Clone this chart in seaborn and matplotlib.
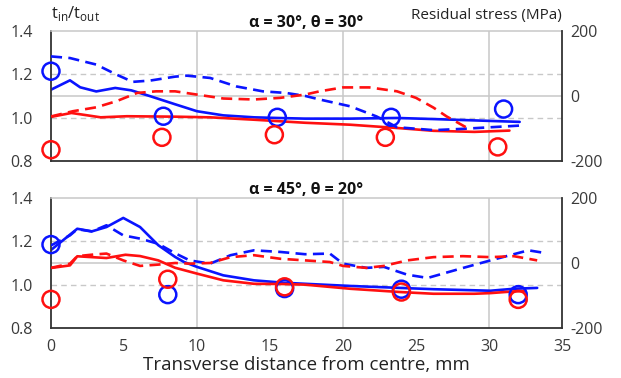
import matplotlib
matplotlib.use("Agg")
import matplotlib.pyplot as plt
import seaborn as sns

sns.set_theme(style="white")
plt.rcParams["font.family"] = ["Open Sans", "DejaVu Sans"]
plt.rcParams["axes.unicode_minus"] = False

BLUE = "#0a14ff"
RED = "#ff1010"

# ---- alpha = 30 deg, theta = 30 deg ----
a30_ratio_blue_x = [0, 1.3, 2.0, 3.1, 4.4, 5.5, 6.8, 8.5, 10, 11.8, 13.9, 15.5, 17.4, 20.5, 23.7, 26.2, 32.1]
a30_ratio_blue = [1.130, 1.173, 1.141, 1.122, 1.138, 1.127, 1.100, 1.063, 1.031, 1.012, 1.003, 1.000, 0.997, 0.997, 1.000, 0.995, 0.982]
a30_ratio_red_x = [0, 1.4, 3.4, 5.2, 8.5, 10.9, 13.9, 17.4, 20.5, 23.7, 26.2, 29.0, 31.4]
a30_ratio_red = [1.005, 1.023, 1.003, 1.008, 1.006, 1.003, 0.992, 0.978, 0.969, 0.954, 0.941, 0.936, 0.942]
a30_stress_blue_x = [0, 1.3, 3.1, 4.5, 5.6, 6.8, 8.5, 9.3, 10.9, 12.7, 14.5, 16.1, 17.4, 18.4, 20.5, 22.3, 23.7, 26.2, 28.2, 32.1]
a30_stress_blue = [122, 117, 97, 66, 44, 48, 60, 63, 56, 30, 15, 10, 1, -10, -31, -62, -95, -104, -100, -90]
a30_stress_red_x = [0, 1.5, 3.1, 4.5, 5.9, 7.2, 8.5, 10, 11.8, 13.9, 15.7, 17.4, 18.4, 20.0, 21.8, 23.7, 25.0, 26.2, 27.1, 28.5]
a30_stress_red = [-62, -46, -34, -15, 10, 15, 15, 5, -7, -10, -5, 5, 15, 27, 27, 15, -5, -35, -62, -97]
a30_meas_blue_x = [0, 7.7, 15.5, 23.3, 31.0]
a30_meas_blue = [1.215, 1.008, 1.003, 1.003, 1.041]
a30_meas_red_x = [0, 7.6, 15.3, 22.9, 30.6]
a30_meas_red = [0.854, 0.911, 0.923, 0.911, 0.867]

# ---- alpha = 45 deg, theta = 20 deg ----
a45_ratio_blue_x = [0, 1.8, 2.8, 3.8, 4.95, 6.1, 7.35, 8.5, 9.1, 10, 11.8, 13.9, 15.9, 17.4, 20.5, 23.9, 26.2, 29.0, 30.1, 31.7, 33.3]
a45_ratio_blue = [1.160, 1.258, 1.246, 1.266, 1.308, 1.266, 1.182, 1.128, 1.105, 1.082, 1.043, 1.020, 1.009, 1.004, 0.994, 0.985, 0.979, 0.974, 0.972, 0.981, 0.985]
a45_ratio_red_x = [0, 1.3, 1.8, 3.8, 5.1, 6.1, 7.35, 8.5, 10, 11.8, 13.9, 15.9, 17.4, 20.5, 23.9, 26.2, 29.0, 30.1, 31.7, 32.4]
a45_ratio_red = [1.077, 1.089, 1.131, 1.123, 1.138, 1.132, 1.112, 1.078, 1.051, 1.020, 1.004, 1.003, 1.000, 0.981, 0.966, 0.958, 0.958, 0.961, 0.969, 0.970]
a45_stress_blue_x = [0, 1.3, 1.8, 2.8, 3.8, 4.95, 6.1, 7.35, 8.5, 9.5, 10.9, 12.3, 13.9, 15.7, 17.4, 19.1, 20.0, 21.6, 22.8, 24.4, 25.8, 28.0, 30.1, 32.7, 33.8]
a45_stress_blue = [54, 85, 104, 97, 116, 85, 75, 59, 30, 8, -2, 24, 39, 34, 27, 29, -2, -15, -12, -36, -46, -18, 8, 39, 31]
a45_stress_red_x = [0, 1.3, 1.8, 2.9, 3.8, 4.95, 6.1, 7.35, 8.5, 9.5, 10.9, 12.3, 13.9, 15.7, 17.4, 19.1, 20.0, 21.6, 22.8, 24.4, 26.2, 28.2, 30.1, 31.7, 33.3]
a45_stress_red = [-15, -2, 21, 26, 29, 8, -9, -5, 0, -2, 0, 18, 24, 13, 8, 3, -9, -15, -9, 8, 18, 21, 18, 21, 8]
a45_meas_x = [0, 8, 16, 24, 32]
a45_meas_blue = [1.185, 0.954, 0.982, 0.979, 0.954]
a45_meas_red = [0.932, 1.025, 0.990, 0.966, 0.932]

x_ticks = [0, 5, 10, 15, 20, 25, 30, 35]
left_ticks = [0.8, 1.0, 1.2, 1.4]
right_ticks = [-200, 0, 200]

panels = [
    dict(title="α = 30°, θ = 30°",
         ratio=[(a30_ratio_blue_x, a30_ratio_blue, BLUE), (a30_ratio_red_x, a30_ratio_red, RED)],
         stress=[(a30_stress_blue_x, a30_stress_blue, BLUE), (a30_stress_red_x, a30_stress_red, RED)],
         meas=[(a30_meas_blue_x, a30_meas_blue, BLUE), (a30_meas_red_x, a30_meas_red, RED)]),
    dict(title="α = 45°, θ = 20°",
         ratio=[(a45_ratio_blue_x, a45_ratio_blue, BLUE), (a45_ratio_red_x, a45_ratio_red, RED)],
         stress=[(a45_stress_blue_x, a45_stress_blue, BLUE), (a45_stress_red_x, a45_stress_red, RED)],
         meas=[(a45_meas_x, a45_meas_blue, BLUE), (a45_meas_x, a45_meas_red, RED)]),
]

fig = plt.figure(figsize=(6.21, 3.78), dpi=100)
rects = [[0.0821, 0.5728, 0.8229, 0.3453], [0.0821, 0.1323, 0.8229, 0.3439]]

GRID = "#c8c8c8"
TICK_COL = "#3a3a3a"

for i, (p, r) in enumerate(zip(panels, rects)):
    ax = fig.add_axes(r)
    ax.set_xlim(0, 35)
    ax.set_ylim(0.8, 1.4)
    ax.grid(False)
    for gx in (10, 20, 30):
        ax.axvline(gx, color=GRID, lw=1.1, zorder=0)
    ax.axhline(1.1, color=GRID, lw=1.1, zorder=0)
    for gy in (1.0, 1.2):
        ax.axhline(gy, color=GRID, lw=1.0, ls=(0, (4, 3)), zorder=0)

    for xs, ys, c in p["ratio"]:
        sns.lineplot(x=xs, y=ys, ax=ax, color=c, lw=1.9, estimator=None, sort=False)
    for xs, ys, c in p["meas"]:
        sns.scatterplot(x=xs, y=ys, ax=ax, s=150, facecolor="none", edgecolor=c,
                        linewidth=1.8, zorder=5, clip_on=False)

    ax.set_yticks(left_ticks)
    ax.set_yticklabels([f"{v:.1f}" for v in left_ticks])
    ax.set_xticks(x_ticks)
    ax.tick_params(axis="both", length=0, labelsize=11.5, colors=TICK_COL, pad=8)
    ax.tick_params(axis="y", pad=13)
    if i == 0:
        ax.set_xticklabels([])
    else:
        ax.set_xticklabels([str(v) for v in x_ticks])
        ax.set_xlabel("Transverse distance from centre, mm", fontsize=13.5, color="#222222", labelpad=1)
    ax.set_ylabel("")
    for s in ("left", "bottom"):
        ax.spines[s].set_color("#333333")
        ax.spines[s].set_linewidth(1.3)
    ax.spines["top"].set_color(GRID)
    ax.spines["top"].set_linewidth(1.1)
    ax.spines["right"].set_visible(False)

    tw = ax.twinx()
    tw.set_ylim(-200, 200)
    for xs, ys, c in p["stress"]:
        sns.lineplot(x=xs, y=ys, ax=tw, color=c, lw=1.9, estimator=None, sort=False,
                     dashes=False, linestyle=(0, (4.2, 2.4)))
    tw.set_xlim(0, 35)
    tw.set_yticks(right_ticks)
    tw.set_yticklabels([str(v) for v in right_ticks])
    tw.tick_params(axis="y", length=0, labelsize=11.5, colors=TICK_COL, pad=6)
    tw.set_ylabel("")
    tw.grid(False)
    for s in ("left", "top", "bottom"):
        tw.spines[s].set_visible(False)
    tw.spines["right"].set_color("#333333")
    tw.spines["right"].set_linewidth(1.3)

    ax.set_title(p["title"], fontsize=11.5, fontweight="bold", color="#111111", pad=3)

fig.text(0.0821, 0.963, r"t$_{\mathregular{in}}$/t$_{\mathregular{out}}$",
         fontsize=12, color="#222222", ha="left", va="center")
fig.text(0.905, 0.958, "Residual stress (MPa)", fontsize=11, color="#222222",
         ha="right", va="center")

fig.savefig("out.png", dpi=100)
